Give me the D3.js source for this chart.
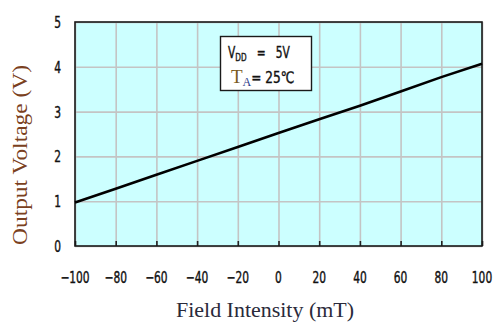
<!DOCTYPE html>
<html>
<head>
<meta charset="utf-8">
<script src="https://cdn.jsdelivr.net/npm/d3@7"></script>
<style>
  body { margin: 0; background: #fff; }
  svg { display: block; }
</style>
</head>
<body>
<svg id="chart" width="494" height="326"></svg>
<script>
// values
const field = [-100, -80, -60, -40, -20, 0, 20, 40, 60, 80, 100];
const voltage = [0.97, 1.28, 1.59, 1.90, 2.21, 2.52, 2.83, 3.13, 3.45, 3.77, 4.07];
const xTicks = [-100, -80, -60, -40, -20, 0, 20, 40, 60, 80, 100];
const yTicks = [0, 1, 2, 3, 4, 5];

const svg = d3.select("#chart");
const margin = { top: 22, right: 12, bottom: 80, left: 75 };
const width = +svg.attr("width");
const height = +svg.attr("height");

const x = d3.scaleLinear()
    .domain([-100, 100])
    .range([margin.left, width - margin.right]);

const y = d3.scaleLinear()
    .domain([0, 5])
    .range([height - margin.bottom, margin.top]);

const tickFont = "'DejaVu Sans Condensed', 'DejaVu Sans', sans-serif";
const serif = "'Liberation Serif', 'Times New Roman', serif";
const squeeze = 0.74;

// plot background
svg.append("rect")
    .attr("x", x(-100))
    .attr("y", y(5))
    .attr("width", x(100) - x(-100))
    .attr("height", y(0) - y(5))
    .attr("fill", "#ccffff");

// grid
svg.append("g")
    .attr("transform", `translate(0,${y(0)})`)
    .call(d3.axisBottom(x).tickValues(xTicks).tickSize(-(y(0) - y(5))).tickFormat(""))
    .call(g => g.select(".domain").remove())
    .call(g => g.selectAll("line").attr("stroke", "#c4c4c4").attr("stroke-width", 1.6));

svg.append("g")
    .attr("transform", `translate(${x(-100)},0)`)
    .call(d3.axisLeft(y).tickValues(yTicks).tickSize(-(x(100) - x(-100))).tickFormat(""))
    .call(g => g.select(".domain").remove())
    .call(g => g.selectAll("line").attr("stroke", "#c4c4c4").attr("stroke-width", 1.6));

// small inner ticks on the bottom axis
svg.append("g")
    .attr("transform", `translate(0,${y(0)})`)
    .call(d3.axisBottom(x).tickValues(xTicks).tickSize(-5).tickFormat(""))
    .call(g => g.select(".domain").remove())
    .call(g => g.selectAll("line").attr("stroke", "#222").attr("stroke-width", 1.6));

// tick labels (condensed look)
svg.append("g")
    .selectAll("text")
    .data(xTicks)
    .enter().append("text")
    .attr("transform", d => `translate(${x(d)},${y(0) + 37}) scale(${squeeze},1)`)
    .attr("text-anchor", "middle")
    .attr("font-family", tickFont)
    .attr("font-size", 16)
    .attr("fill", "#111")
    .attr("stroke", "#111")
    .attr("stroke-width", 0.4)
    .text(d => d < 0 ? "\u2212" + Math.abs(d) : d);

svg.append("g")
    .selectAll("text")
    .data(yTicks)
    .enter().append("text")
    .attr("transform", d => `translate(${x(-100) - 14},${y(d) + 6}) scale(${squeeze},1)`)
    .attr("text-anchor", "end")
    .attr("font-family", tickFont)
    .attr("font-size", 16)
    .attr("fill", "#111")
    .attr("stroke", "#111")
    .attr("stroke-width", 0.4)
    .text(d => d);

// frame
svg.append("rect")
    .attr("x", x(-100))
    .attr("y", y(5))
    .attr("width", x(100) - x(-100))
    .attr("height", y(0) - y(5))
    .attr("fill", "none")
    .attr("stroke", "#1a1a1a")
    .attr("stroke-width", 1.6);

// data line
const points = field.map((f, i) => [f, voltage[i]]);
svg.append("path")
    .datum(points)
    .attr("fill", "none")
    .attr("stroke", "#000")
    .attr("stroke-width", 2.6)
    .attr("d", d3.line().x(d => x(d[0])).y(d => y(d[1])));

// legend box
const lg = svg.append("g");
lg.append("rect")
    .attr("x", 220.5)
    .attr("y", 36.5)
    .attr("width", 91)
    .attr("height", 54)
    .attr("fill", "#fff")
    .attr("stroke", "#1a1a1a")
    .attr("stroke-width", 1.4);

const l1 = lg.append("text")
    .attr("transform", `translate(228,58) scale(${squeeze},1)`)
    .attr("font-family", tickFont)
    .attr("font-size", 16)
    .attr("fill", "#111")
    .attr("stroke", "#111")
    .attr("stroke-width", 0.4);
l1.append("tspan").text("V");
l1.append("tspan").attr("font-size", 11).attr("dy", 3).text("DD");
l1.append("tspan").attr("dy", -3).text(" \u00a0\u00a0=\u00a0\u00a0 5V");

const l2 = lg.append("text")
    .attr("transform", `translate(231,83)`)
    .attr("font-family", tickFont)
    .attr("font-size", 16)
    .attr("fill", "#111");
l2.append("tspan").attr("font-family", serif)
    .attr("font-size", 19).attr("fill", "#7a5a20").text("T");
l2.append("tspan").attr("font-family", serif)
    .attr("font-size", 12).attr("dy", 3).attr("fill", "#2a3a8a").text("A");
l2.append("tspan").attr("dy", -3).attr("font-size", 16)
    .attr("stroke", "#111").attr("stroke-width", 0.4)
    .attr("textLength", 43).attr("lengthAdjust", "spacingAndGlyphs")
    .text("= 25\u2103");

// axis titles
svg.append("text")
    .attr("x", 265)
    .attr("y", 317)
    .attr("text-anchor", "middle")
    .attr("font-family", serif)
    .attr("font-size", 20)
    .attr("fill", "#2a2a3a")
    .attr("textLength", 178)
    .attr("lengthAdjust", "spacingAndGlyphs")
    .text("Field Intensity (mT)");

svg.append("text")
    .attr("transform", `translate(27,155) rotate(-90)`)
    .attr("text-anchor", "middle")
    .attr("font-family", serif)
    .attr("font-size", 20)
    .attr("fill", "#7a4020")
    .attr("textLength", 180)
    .attr("lengthAdjust", "spacingAndGlyphs")
    .text("Output Voltage (V)");
</script>
</body>
</html>
